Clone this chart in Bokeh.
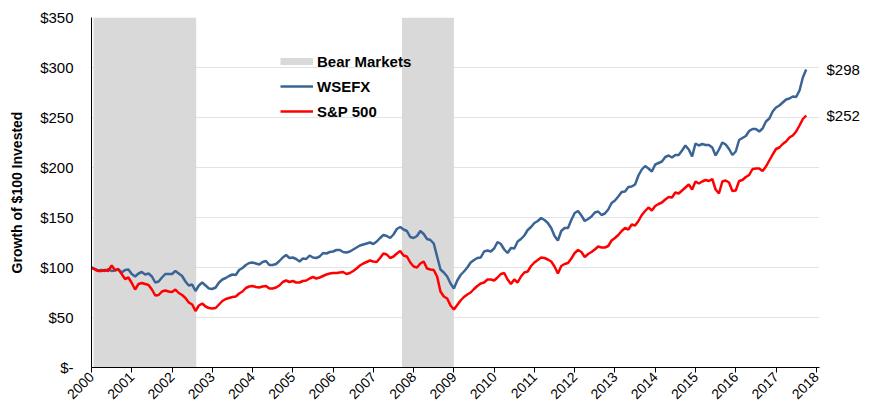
import numpy as np
from bokeh.plotting import figure
from bokeh.models import FixedTicker, Legend, LegendItem, LinearAxis
from bokeh.embed import file_html
from bokeh.resources import INLINE

# ---- data (monthly) ----
start_year = 2000
wsefx = [100, 98.5, 97, 97.5, 96.5, 98.5, 96.5, 97, 98.5, 95, 97.5, 98, 93.5, 91, 94, 95.5, 93, 94, 91, 85,
         86, 90, 93.5, 93.5, 93.5, 96.5, 94, 91.5, 86, 82, 83, 76.5, 82, 85, 82, 79,
         78.5,
         80, 85, 88, 89.5, 91.5, 93, 92.5, 97.5, 99.5, 102.5, 104.5, 105, 104, 103, 105.5, 106.5, 102.5, 102.5,
         103.5, 106.5, 110, 112.5, 109.5, 110, 108.5, 106, 109, 108.5, 112, 110, 109.5, 111, 114.5, 114, 115.5,
         116,
         117.5, 117.5, 115.5, 115, 116, 118, 120, 122, 123, 124, 125, 123.5, 126, 129.5, 132.5, 131.5, 129.5,
         133, 138.5, 140.5, 138, 136.5, 130.5, 129.5, 131.5, 136.5, 133.5, 128.5, 127.5, 124, 111, 98, 95, 91, 84,
         79,
         87, 92.5, 96, 100, 105, 107.5, 109.5, 110, 116, 117, 116, 119, 125.5, 123.5, 118, 114.5, 119.5, 119,
         126, 128.5, 132, 137.5, 140.5, 144.5, 146.5, 149.5, 147.5, 144.5, 139.5, 131.5, 127, 136.5, 139.5,
         139.5, 147.5,
         154.5,
         156.5, 152, 146.5, 148.5, 151, 155, 156, 152.5, 154, 158, 164.5, 167, 171, 175.5, 176, 180.5, 181, 183,
         192, 198, 201.5, 199, 196, 203, 204.5, 206, 210.5, 212, 210, 212.5, 212.5, 217, 222, 218, 211,
         224,
         222, 223.5, 222.5, 222.5, 220, 212, 218, 225, 223, 218.5, 212.5, 216, 227.5, 229.5, 231.5, 236.5, 238.5,
         238.5, 236, 239, 246, 249, 256, 260, 262, 265, 268, 269, 271, 270.5, 277, 290, 298]
sp500 = [100, 98, 96.5, 96.5, 97.5, 96.5, 102, 97.5, 98, 93.5, 88.5, 90, 84.5, 78, 83.5, 84.5, 83.5, 82.5, 78, 72,
         72.5, 76, 77, 76, 75.5, 78, 74.5, 72.5, 69.5, 65, 63, 56.5, 62, 64, 61, 59.5,
         59, 59.5, 63, 66.5, 68.5, 69.5, 70.5, 71, 74, 76, 79.5, 81, 81.5, 80.5, 80, 81, 81.5, 79, 79, 80,
         82, 85.5, 87, 85.5, 86.5, 85, 85, 86.5, 87, 89, 90.5, 89, 90, 91.5, 93, 94,
         94.5, 94.5, 95, 95.5, 93.5, 94.5, 96.5, 99, 102, 104, 105.5, 107, 106, 105.5, 109.5, 114, 113, 109.5,
         111, 114, 116.5, 112, 111, 105, 101, 100, 104, 106, 99, 98, 97.5, 91, 76, 71, 69, 62,
         58, 62.5, 67, 70.5, 73, 75, 78.5, 81.5, 84, 85, 88, 88, 87, 90, 93.5, 94.5, 88, 83.5, 88, 85,
         91, 95, 96, 101.5, 105, 107.5, 110, 109.5, 108, 106, 101, 94, 101.5, 103.5, 104.5, 109,
         114.5, 117.5, 115.5, 110.5, 113.5, 115.5, 118, 121, 120, 120, 121.5, 127, 129.5, 132.5, 136.5, 139.5,
         138, 143, 142, 146.5, 152.5, 156.5, 160, 157, 161.5, 163.5, 165, 168, 170.5, 170, 175, 174, 177, 180,
         183, 178,
         186, 184, 186, 187.5, 186.5, 188.5, 178, 174, 186, 187, 185, 176.5, 177, 186.5, 187.5, 190.5, 192.5,
         198.5, 199, 199, 196.5, 201, 207, 213, 218.5, 220, 223.5, 226, 230, 232, 236, 242, 248.5, 252]
bear_start = [2000.05, 2007.71]
bear_end = [2002.6, 2009.0]
year_ticks = list(range(2000, 2019))
y_ticks = [0, 50, 100, 150, 200, 250, 300, 350]
y_tick_labels = ["$-", "$50", "$100", "$150", "$200", "$250", "$300", "$350"]

FONT = "Liberation Sans"
BLUE = "#3b6496"
RED = "#ff0000"
GRAY = "#d9d9d9"

x = start_year + np.arange(len(wsefx)) / 12.0

p = figure(width=872, height=406, title=None,
           x_range=(2000, 2018.08), y_range=(0, 350),
           output_backend="svg", toolbar_location=None,
           min_border_left=91, min_border_right=53, min_border_top=17, min_border_bottom=39)

p.quad(left=bear_start, right=bear_end, bottom=0, top=350, fill_color=GRAY, line_color=None)
r_blue = p.line(x, wsefx, line_color=BLUE, line_width=2.5)
r_red = p.line(x, sp500, line_color=RED, line_width=2.5)
r_bear = p.line([np.nan], [np.nan], line_color=GRAY, line_width=7)

legend = Legend(items=[LegendItem(label="Bear Markets", renderers=[r_bear]),
                       LegendItem(label="WSEFX", renderers=[r_blue]),
                       LegendItem(label="S&P 500", renderers=[r_red])],
                location=(189, 246), glyph_width=33, glyph_height=20, label_height=20,
                spacing=5, padding=0, margin=0, label_standoff=4,
                label_text_font=FONT, label_text_font_style="bold", label_text_font_size="15px",
                label_text_color="black", background_fill_alpha=0, border_line_color=None)
p.add_layout(legend)

# end-value labels on the right, outside the plot frame
last_vals = [wsefx[-1], sp500[-1]]
end_axis = LinearAxis(ticker=FixedTicker(ticks=last_vals),
                      major_label_overrides={v: f"${v:.0f}" for v in last_vals})
end_axis.axis_line_color = None
end_axis.major_tick_line_color = None
end_axis.minor_tick_line_color = None
end_axis.major_tick_in = 0
end_axis.major_tick_out = 0
end_axis.major_label_standoff = 7
end_axis.major_label_text_font = FONT
end_axis.major_label_text_font_size = "15px"
end_axis.major_label_text_color = "black"
p.add_layout(end_axis, "right")

p.outline_line_color = None
p.xgrid.visible = False
p.ygrid.grid_line_color = "#e3e3e3"
p.ygrid.ticker = FixedTicker(ticks=y_ticks)

p.xaxis.ticker = FixedTicker(ticks=year_ticks)
p.xaxis.major_label_orientation = np.pi / 4
p.xaxis.minor_tick_line_color = None
p.xaxis.major_tick_in = 0
p.xaxis.major_tick_out = 5
p.xaxis.major_label_standoff = 2
p.xaxis.axis_line_color = "black"
p.xaxis.major_tick_line_color = "black"
p.xaxis.major_label_text_font = FONT
p.xaxis.major_label_text_font_size = "14px"
p.xaxis.major_label_text_color = "black"

ax = p.yaxis[0]
ax.ticker = FixedTicker(ticks=y_ticks)
ax.major_label_overrides = dict(zip(y_ticks, y_tick_labels))
ax.major_tick_line_color = None
ax.minor_tick_line_color = None
ax.major_tick_in = 0
ax.major_tick_out = 0
ax.major_label_standoff = 18
ax.axis_line_color = "black"
ax.major_label_text_font = FONT
ax.major_label_text_font_size = "15px"
ax.major_label_text_color = "black"
ax.axis_label = "Growth of $100 Invested"
ax.axis_label_text_font = FONT
ax.axis_label_text_font_style = "bold"
ax.axis_label_text_font_size = "14px"
ax.axis_label_text_color = "black"
ax.axis_label_standoff = 12

open("out.html", "w").write(file_html(p, INLINE))
